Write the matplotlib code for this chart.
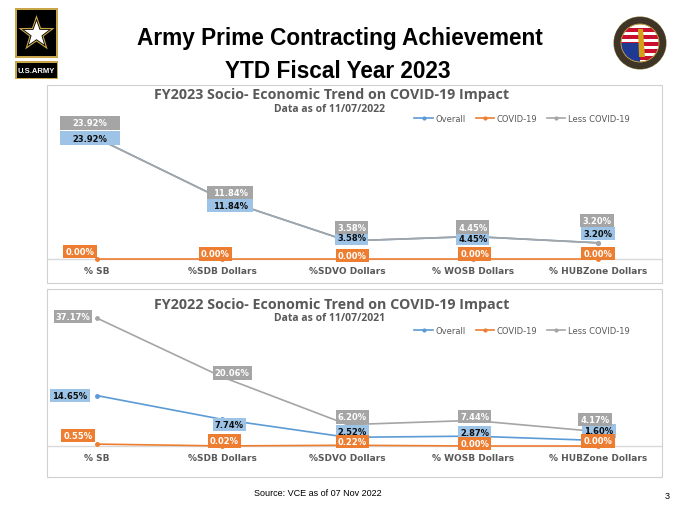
import numpy as np
import matplotlib
matplotlib.use("Agg")
import matplotlib.pyplot as plt
from matplotlib.patches import Rectangle, Polygon, Circle, Wedge
from matplotlib.offsetbox import AnnotationBbox, DrawingArea

# ---------------- data ----------------
categories = ["% SB", "%SDB Dollars", "%SDVO Dollars", "% WOSB Dollars", "% HUBZone Dollars"]
series_names = ["Overall", "COVID-19", "Less COVID-19"]

fy23_overall = [23.92, 11.84, 3.58, 4.45, 3.20]
fy23_covid = [0.00, 0.00, 0.00, 0.00, 0.00]
fy23_less = [23.92, 11.84, 3.58, 4.45, 3.20]

fy22_overall = [14.65, 7.74, 2.52, 2.87, 1.60]
fy22_covid = [0.55, 0.02, 0.22, 0.00, 0.00]
fy22_less = [37.17, 20.06, 6.20, 7.44, 4.17]

main_title = "Army Prime Contracting Achievement"
main_subtitle = "YTD Fiscal Year 2023"
chart1_title = "FY2023 Socio- Economic Trend on COVID-19 Impact"
chart1_sub = "Data as of 11/07/2022"
chart2_title = "FY2022 Socio- Economic Trend on COVID-19 Impact"
chart2_sub = "Data as of 11/07/2021"
source_text = "Source: VCE as of 07 Nov 2022"
page_no = "3"

# ---------------- style ----------------
C_BLUE = "#5B9BD5"
C_ORANGE = "#ED7D31"
C_GRAY = "#A5A5A5"
C_BLUE_BOX = "#9DC3E6"
C_TXT = "#595959"

# label offsets in pixels (dx, dy) per series per point
off23 = {
    "overall": [(-7, 0), (8, -6.5), (4, 3), (0, -1.5), (0, 9)],
    "covid": [(-17, 7.5), (-7, 5), (5, 3.5), (2, 5), (0, 5.5)],
    "less": [(-7, 15.5), (8, 6.5), (4, 13.5), (0, 9.5), (-1, 22)],
}
off22 = {
    "overall": [(-27, 0), (7, -5), (5, 6), (2, 4), (1, 9.5)],
    "covid": [(-19, 9), (2, 5), (5, 4), (2, 2.5), (0, 5)],
    "less": [(-24, 2), (10, 4), (5, 7.7), (2, 4), (-3, 12)],
}
# wide label boxes (px) in the top chart
wide23 = [(60, 14), (46, 13), None, None, None]

W, H = 680, 510
fig = plt.figure(figsize=(6.8, 5.1), dpi=100)
fig.patch.set_facecolor("white")

bg = fig.add_axes([0, 0, 1, 1])
bg.set_xlim(0, W)
bg.set_ylim(H, 0)
bg.axis("off")
bg.set_zorder(0)

# --- Army logo ---
bg.add_patch(Rectangle((15, 9), 43, 50, facecolor="#C9A54A", edgecolor="none"))
bg.add_patch(Rectangle((17, 11), 39, 46, facecolor="black", edgecolor="none"))


def star(cx, cy, ro, ri):
    pts = []
    for k in range(10):
        ang = np.pi / 2 + k * np.pi / 5
        r = ro if k % 2 == 0 else ri
        pts.append((cx + r * np.cos(ang), cy - r * np.sin(ang)))
    return pts


bg.add_patch(Polygon(star(36.5, 35, 19, 7.6), closed=True, facecolor="#C9A54A", edgecolor="none"))
bg.add_patch(Polygon(star(36.5, 35, 15.5, 6.2), closed=True, facecolor="black", edgecolor="none"))
bg.add_patch(Polygon(star(36.5, 35, 13, 5.2), closed=True, facecolor="white", edgecolor="none"))
bg.add_patch(Rectangle((15, 62), 43, 18, facecolor="#C9A54A", edgecolor="none"))
bg.add_patch(Rectangle((16.5, 63.5), 40, 15, facecolor="black", edgecolor="none"))
bg.text(36.5, 71.5, "U.S.ARMY", color="white", fontsize=5.5, fontweight="bold",
        family="Liberation Sans", ha="center", va="center")

# --- seal ---
cx, cy = 640, 44
bg.add_patch(Circle((cx, cy), 26, facecolor="#3E3526", edgecolor="#8B7A4A", lw=0.8))
bg.add_patch(Circle((cx, cy), 19, facecolor="white", edgecolor="#C9A54A", lw=0.6))
for i in range(5):
    bg.add_patch(Rectangle((cx - 19, cy - 15 + i * 7), 38, 3.5, facecolor="#C8102E", edgecolor="none"))
bg.add_patch(Wedge((cx, cy), 19, 90, 180, facecolor="#1F3A93", edgecolor="none"))
bg.add_patch(Polygon([(cx - 2, cy - 14), (cx + 3, cy - 14), (cx + 5, cy + 14), (cx - 1, cy + 14)],
                     closed=True, facecolor="#D4A017", edgecolor="none"))
bg.add_patch(Wedge((cx, cy), 26, 0, 360, width=7, facecolor="#3E3526", edgecolor="none"))
bg.add_patch(Circle((cx, cy), 19, facecolor="none", edgecolor="#C9A54A", lw=0.6))

# --- titles ---
bg.text(340, 39, main_title, fontsize=16.3, fontweight="bold", family="Liberation Sans",
        ha="center", va="center", color="black")
bg.text(338, 72, main_subtitle, fontsize=16.3, fontweight="bold", family="Liberation Sans",
        ha="center", va="center", color="black")

# --- panel borders ---
bg.add_patch(Rectangle((47, 86), 615, 198, facecolor="white", edgecolor="#D0D0D0", lw=0.8))
bg.add_patch(Rectangle((47, 290), 615, 188, facecolor="white", edgecolor="#D0D0D0", lw=0.8))

for ty, tt, sy, st in [(95.5, chart1_title, 109, chart1_sub), (305, chart2_title, 318.5, chart2_sub)]:
    bg.text(332, ty, tt, fontsize=10.3, fontweight="bold", family="Open Sans", color=C_TXT,
            ha="center", va="center")
    bg.text(330, sy, st, fontsize=7.5, fontweight="bold", family="Open Sans", color=C_TXT,
            ha="center", va="center")

bg.text(318, 494, source_text, fontsize=6.5, family="Liberation Sans", ha="center", va="center", color="black")
bg.text(667, 497, page_no, fontsize=6.5, family="Liberation Sans", ha="center", va="center", color="black")

# ---------------- charts ----------------
x = np.arange(len(categories))
px_per_unit = 125.25
xmin = -(97 - 47) / px_per_unit
xmax = xmin + (661 - 47) / px_per_unit


def make_axes(top_px, base_px, px_per_pct):
    ax = fig.add_axes([47 / W, 1 - base_px / H, (661 - 47) / W, (base_px - top_px) / H])
    ax.set_zorder(2)
    ax.patch.set_alpha(0)
    ax.set_xlim(xmin, xmax)
    ax.set_ylim(0, (base_px - top_px) / px_per_pct)
    for s in ["top", "right", "left"]:
        ax.spines[s].set_visible(False)
    ax.spines["bottom"].set_color("#D9D9D9")
    ax.spines["bottom"].set_linewidth(1.0)
    ax.set_yticks([])
    ax.set_xticks(x)
    ax.set_xticklabels(categories, fontsize=6.5, fontweight="bold", color=C_TXT)
    ax.tick_params(axis="x", length=0, pad=5)
    return ax


def draw(ax, overall, covid, less, offs, legend_y, wide=None):
    l1, = ax.plot(x, overall, color=C_BLUE, lw=1.2, marker="o", ms=2.5, zorder=3, label=series_names[0])
    l2, = ax.plot(x, covid, color=C_ORANGE, lw=1.2, marker="o", ms=2.5, zorder=3, label=series_names[1])
    l3, = ax.plot(x, less, color=C_GRAY, lw=1.2, marker="o", ms=2.5, zorder=3, label=series_names[2])
    for ln in (l1, l2, l3):
        ln.set_clip_on(False)
    specs = [
        ("overall", overall, C_BLUE_BOX, "#0D0D0D"),
        ("covid", covid, C_ORANGE, "white"),
        ("less", less, C_GRAY, "white"),
    ]
    for key, vals, fc, tc in specs:
        for i, v in enumerate(vals):
            dx, dy = offs[key][i]
            big = wide[i] if (wide is not None and key != "covid") else None
            if big is not None:
                bw, bh = big
                da = DrawingArea(bw * 0.72, bh * 0.72, 0, 0)
                da.add_artist(Rectangle((0, 0), bw * 0.72, bh * 0.72, facecolor=fc, edgecolor="none"))
                ab = AnnotationBbox(da, (x[i], v), xybox=(dx, dy), boxcoords="offset pixels",
                                    frameon=False, pad=0, annotation_clip=False, zorder=4)
                ax.add_artist(ab)
                ax.annotate(f"{v:.2f}%", (x[i], v), xytext=(dx, dy), textcoords="offset pixels",
                            ha="center", va="center", fontsize=6, fontweight="bold", color=tc,
                            family="DejaVu Sans", zorder=5, annotation_clip=False)
            else:
                ax.annotate(f"{v:.2f}%", (x[i], v), xytext=(dx, dy), textcoords="offset pixels",
                            ha="center", va="center", fontsize=6, fontweight="bold", color=tc,
                            family="DejaVu Sans",
                            bbox=dict(boxstyle="square,pad=0.25", fc=fc, ec="none"),
                            zorder=5, annotation_clip=False)
    leg = ax.legend(handles=[l1, l2, l3], loc="center", ncol=3, frameon=False,
                    bbox_to_anchor=(522 / W, 1 - legend_y / H), bbox_transform=fig.transFigure,
                    fontsize=6, handlelength=2.2, handletextpad=0.3, columnspacing=1.2,
                    markerscale=0.8)
    for t in leg.get_texts():
        t.set_color(C_TXT)


ax1 = make_axes(100, 260, 5.05)
draw(ax1, fy23_overall, fy23_covid, fy23_less, off23, 119, wide=wide23)

ax2 = make_axes(300, 447, 3.44)
draw(ax2, fy22_overall, fy22_covid, fy22_less, off22, 331)

fig.savefig("out.png", dpi=100, facecolor="white")
